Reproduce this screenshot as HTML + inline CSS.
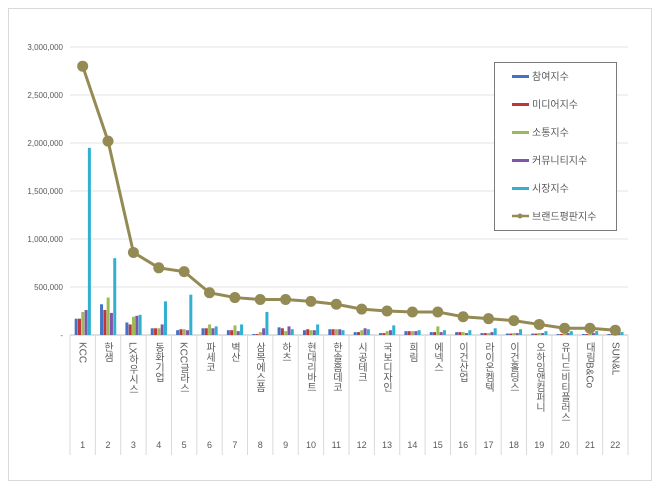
<!DOCTYPE html>
<html><head><meta charset="utf-8"><style>
body{margin:0;background:#fff;}
svg text{font-family:"Liberation Sans","Noto Sans CJK KR",sans-serif;fill:#595959;}
</style></head><body>
<svg id="s" width="660" height="489" viewBox="0 0 660 489" xmlns="http://www.w3.org/2000/svg">
<rect x="8.5" y="8.5" width="643" height="472" fill="#fff" stroke="#d9d9d9"/>
<g id="grid" stroke="#e3e3e3" stroke-width="1"></g>
<g font-size="8" text-anchor="end">
<text x="63" y="48">3,000,000</text>
<text x="63" y="145">2,500,000</text>
<text x="63" y="194">2,000,000</text>
<text x="63" y="242">1,500,000</text>
<text x="63" y="242">1,000,000</text>
<text x="63" y="290">500,000</text>
<text x="63" y="338">-</text>
</g>
<g id="bars"></g>
<g id="line"></g>
<g font-size="10" style="writing-mode:vertical-rl">
<text x="82" y="342">KCC</text>
<text x="107" y="342">한샘</text>
<text x="132" y="342">LX하우시스</text>
<text x="158" y="342">동화기업</text>
<text x="183" y="342">KCC글라스</text>
<text x="209" y="342">파세코</text>
<text x="234" y="342">벽산</text>
<text x="259" y="342">삼목에스폼</text>
<text x="285" y="342">하츠</text>
<text x="310" y="342">현대리바트</text>
<text x="336" y="342">한솔홈데코</text>
<text x="361" y="342">시공테크</text>
<text x="386" y="342">국보디자인</text>
<text x="412" y="342">희림</text>
<text x="437" y="342">에넥스</text>
<text x="462" y="342">이건산업</text>
<text x="488" y="342">라이온켐텍</text>
<text x="513" y="342">이건홀딩스</text>
<text x="539" y="342">오하임앤컴퍼니</text>
<text x="564" y="342">유니드비티플러스</text>
<text x="589" y="342">대림B&amp;Co</text>
<text x="615" y="342">SUN&amp;L</text>
</g>
<g font-size="9" text-anchor="middle" id="nums"></g>
<rect x="494.5" y="62.5" width="122" height="168" fill="#fff" stroke="#595959" stroke-width="0.8"/>
<g font-size="10">
<rect x="512" y="75" width="17" height="3" fill="#4472c4"/><text x="532" y="80">참여지수</text>
<rect x="512" y="103" width="17" height="3" fill="#c0373a"/><text x="532" y="108">미디어지수</text>
<rect x="512" y="131" width="17" height="3" fill="#9bbb59"/><text x="532" y="136">소통지수</text>
<rect x="512" y="159" width="17" height="3" fill="#7f57a6"/><text x="532" y="164">커뮤니티지수</text>
<rect x="512" y="187" width="17" height="3" fill="#31b0d0"/><text x="532" y="192">시장지수</text>
<line x1="512" y1="216" x2="529" y2="216" stroke="#948a54" stroke-width="2.5"/><circle cx="520" cy="216" r="2.5" fill="#948a54"/><text x="532" y="220">브랜드평판지수</text>
</g>
</svg>
<script>
var NS="http://www.w3.org/2000/svg";
function el(p,t,a){var e=document.createElementNS(NS,t);for(var k in a)e.setAttribute(k,a[k]);p.appendChild(e);return e;}
var x0=70,w=(628-70)/22,y0=335,k=96/1e6;
var g=document.getElementById('grid');
for(var i=1;i<=6;i++){var y=y0-i*5e5*k;el(g,'line',{x1:x0,x2:628,y1:y,y2:y});}
// fix y labels
var ts=document.querySelectorAll('g[text-anchor=end] text');
var vals=[3e6,2.5e6,2e6,1.5e6,1e6,5e5,0];
ts.forEach(function(t,i){t.setAttribute('y',y0-vals[i]*k+3);});
ts[1].textContent='2,500,000';ts[3].textContent='1,500,000';
el(g,'line',{x1:x0,x2:628,y1:y0,y2:y0,stroke:'#bfbfbf'});
for(var i=0;i<=22;i++){var x=x0+i*w;el(g,'line',{x1:x,x2:x,y1:y0,y2:455,stroke:'#d9d9d9'});}
var d=[[170,170,240,260,1950],[320,260,390,230,800],[130,110,190,200,210],[70,70,70,110,350],[50,60,60,50,420],[70,70,110,70,90],[50,50,100,40,110],[10,10,30,70,240],[80,70,40,90,60],[50,60,50,50,110],[60,60,60,60,50],[30,30,50,70,60],[20,20,40,50,100],[40,40,40,40,50],[30,30,90,30,50],[30,30,30,20,50],[20,20,20,30,70],[15,15,20,20,60],[15,15,20,20,40],[10,10,20,20,40],[10,10,20,20,40],[10,10,15,20,30]];
var cols=['#4472c4','#c0373a','#9bbb59','#7f57a6','#31b0d0'];
var b=document.getElementById('bars');
d.forEach(function(r,i){var c=x0+w*(i+0.5);r.forEach(function(v,j){var h=v*1000*k;el(b,'rect',{x:c-8+j*3.3,y:y0-h,width:3,height:h,fill:cols[j]});});});
var L=[2.8,2.02,0.86,0.70,0.66,0.44,0.39,0.37,0.37,0.35,0.32,0.27,0.25,0.24,0.24,0.19,0.17,0.15,0.11,0.07,0.07,0.05];
var pts=L.map(function(v,i){return (x0+w*(i+0.5))+','+(y0-v*1e6*k);});
var lg=document.getElementById('line');
el(lg,'polyline',{points:pts.join(' '),fill:'none',stroke:'#948a54','stroke-width':3});
pts.forEach(function(p){var a=p.split(',');el(lg,'circle',{cx:a[0],cy:a[1],r:5.5,fill:'#948a54'});});
var n=document.getElementById('nums');
for(var i=0;i<22;i++){var t=el(n,'text',{x:x0+w*(i+0.5),y:448});t.textContent=i+1;}
</script>
</body></html>
